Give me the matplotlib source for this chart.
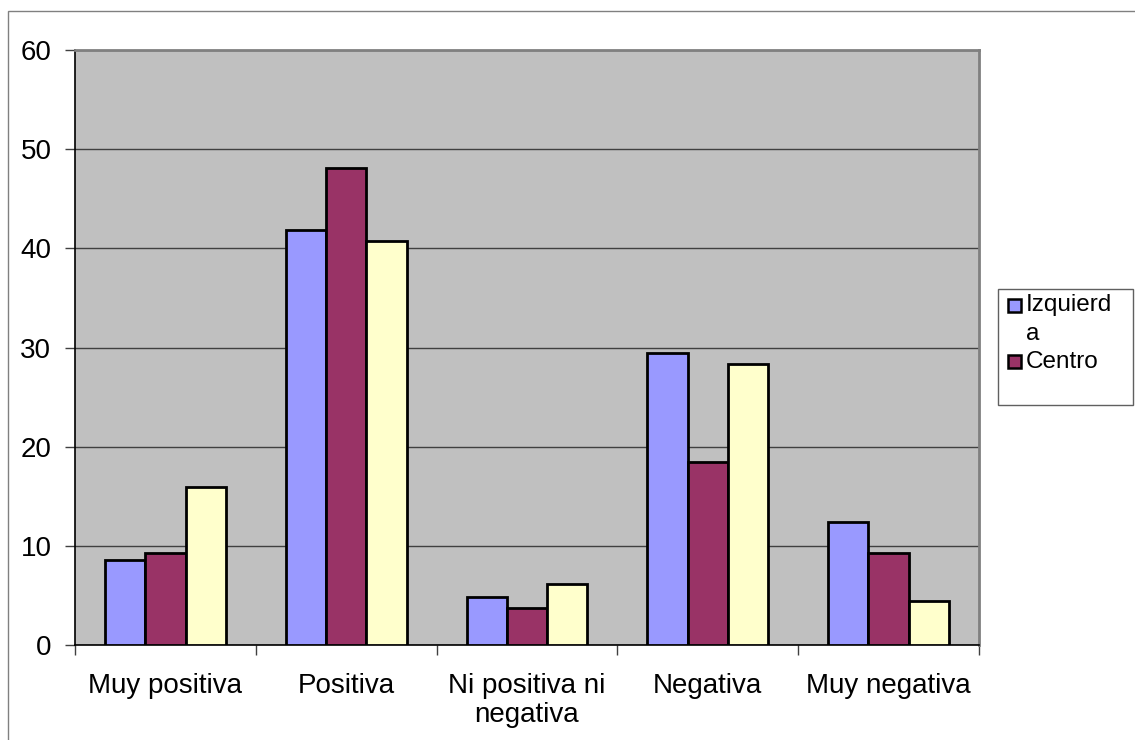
import matplotlib
matplotlib.use("Agg")
import matplotlib.pyplot as plt
from matplotlib.patches import Rectangle
import numpy as np

plt.rcParams['font.family'] = ['Liberation Sans', 'DejaVu Sans']

# Data
categories = ["Muy positiva", "Positiva", "Ni positiva ni\nnegativa", "Negativa", "Muy negativa"]
izquierda = [8.6, 41.8, 4.8, 29.4, 12.4]
centro = [9.3, 48.1, 3.7, 18.5, 9.3]
derecha = [15.9, 40.7, 6.2, 28.3, 4.4]
legend_labels = ["Izquierd", "a", "Centro"]
yticks = [0, 10, 20, 30, 40, 50, 60]

colors = ["#9999FF", "#993366", "#FFFFCC"]
W, H = 1135, 740

fig = plt.figure(figsize=(W / 100, H / 100), dpi=100)

# outer chart frame (left and top edges visible)
fig.patches.append(Rectangle((8 / W, -0.1), 1.2, 1 - 11 / H + 0.1, transform=fig.transFigure,
                             fill=False, edgecolor="#808080", linewidth=1.0))

ax = fig.add_axes([75 / W, 1 - 645 / H, (979 - 75) / W, (645 - 50) / H])
ax.set_facecolor("#C0C0C0")

x = np.arange(len(categories))
bw = 0.2227
for i, (vals, c) in enumerate(zip([izquierda, centro, derecha], colors)):
    ax.bar(x + (i - 1) * bw, vals, width=bw, color=c, edgecolor="black", linewidth=2.0, zorder=3)

ax.set_xlim(-0.5, len(categories) - 0.5)
ax.set_ylim(0, 60)
ax.set_yticks(yticks)
ax.set_yticklabels([str(v) for v in yticks], fontsize=20)
ax.yaxis.grid(True, color="#404040", linewidth=1.0, zorder=1)
ax.set_axisbelow(True)

# category labels centered, ticks at boundaries
ax.set_xticks(np.arange(-0.5, len(categories), 1.0))
ax.set_xticklabels([])
ax.set_xticks(x, minor=True)
ax.set_xticklabels(categories, minor=True, fontsize=20, linespacing=1.15)
ax.tick_params(axis="x", which="minor", length=0, pad=20)
ax.tick_params(axis="x", which="major", length=7, width=1.0, color="#404040")
ax.tick_params(axis="y", length=7, width=1.0, color="#404040", pad=10)

for s in ["left", "bottom"]:
    ax.spines[s].set_color("black")
    ax.spines[s].set_linewidth(1.2)
for s in ["top", "right"]:
    ax.spines[s].set_color("#808080")
    ax.spines[s].set_linewidth(2.0)

# legend box (third entry cut off, as in the original)
lx0, ly0, lx1, ly1 = 998, 289, 1133, 405
fig.patches.append(Rectangle((lx0 / W, 1 - ly1 / H), (lx1 - lx0) / W, (ly1 - ly0) / H,
                             transform=fig.transFigure, facecolor="white",
                             edgecolor="#606060", linewidth=1.0))
sq = 13
for c, sy in [(colors[0], 299), (colors[1], 355)]:
    fig.patches.append(Rectangle((1008 / W, 1 - (sy + sq) / H), sq / W, sq / H,
                                 transform=fig.transFigure, facecolor=c,
                                 edgecolor="black", linewidth=1.8))
for label, ty in zip(legend_labels, [305, 334, 362]):
    fig.text(1026 / W, 1 - ty / H, label, fontsize=17.5, va="center", ha="left")

fig.savefig("out.png", dpi=100)
